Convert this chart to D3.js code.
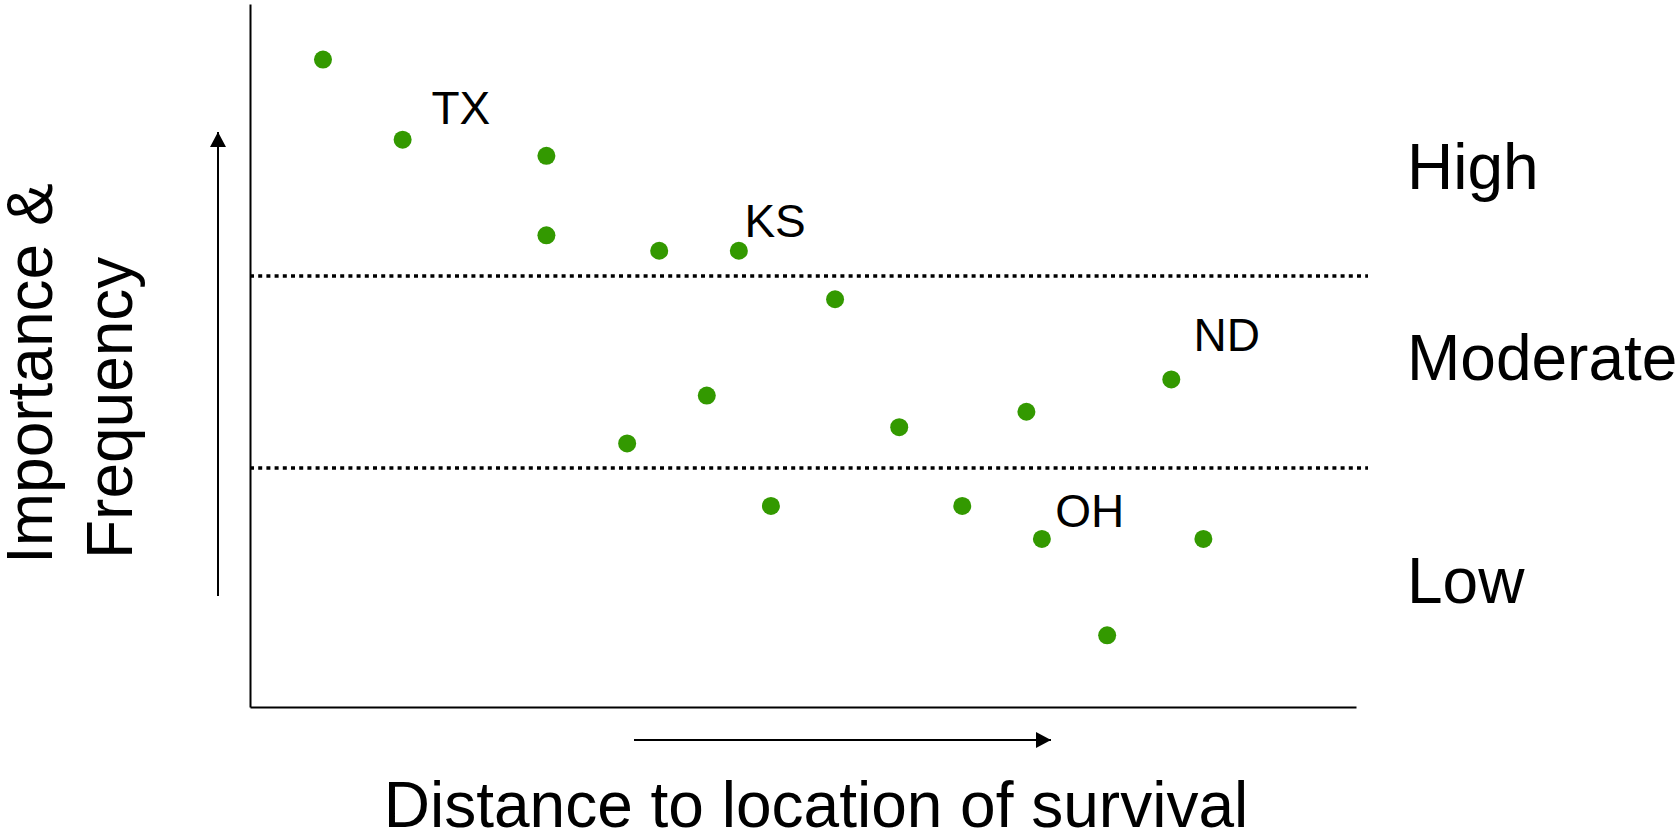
<!DOCTYPE html>
<html>
<head>
<meta charset="utf-8">
<script src="https://cdn.jsdelivr.net/npm/d3@7"></script>
<style>
  body { margin: 0; background: #fff; }
  svg { display: block; font-family: "Liberation Sans", Arial, sans-serif; }
</style>
</head>
<body>
<svg id="chart" width="1678" height="834"></svg>
<script>
// distance (x) and importance & frequency (y), arbitrary 0-100 units
const distance   = [6.6, 13.8, 26.8, 26.8, 37.0, 44.2, 52.9, 41.3, 34.1, 58.7, 70.2, 83.3, 47.1, 64.4, 71.6, 86.2, 77.5];
const importance = [92.1, 80.7, 78.4, 67.1, 64.9, 64.9, 58.0, 44.3, 37.5, 39.8, 42.0, 46.6, 28.6, 28.6, 23.9, 23.9, 10.2];

// state labels placed at data coordinates
const stateNames = ["TX", "KS", "ND", "OH"];
const stateX     = [16.4, 44.7, 85.3, 72.8];
const stateY     = [82.9, 66.9, 50.6, 25.6];

// band thresholds and band labels
const thresholds = [61.3, 34.0];
const bandNames  = ["High", "Moderate", "Low"];
const bandY      = [73.7, 46.5, 14.8];

const svg = d3.select("#chart");

const margin = { left: 250, right: 322, top: 4, bottom: 127 };
const W = 1678, H = 834;

const x = d3.scaleLinear()
  .domain([0, 100])
  .range([margin.left, W - margin.right]);

const y = d3.scaleLinear()
  .domain([0, 100])
  .range([H - margin.bottom, margin.top]);

// axes: just the domain lines, no ticks
svg.append("g")
  .attr("transform", `translate(0,${y(0)})`)
  .call(d3.axisBottom(x).ticks(0).tickSizeOuter(0))
  .call(g => g.select(".domain").attr("stroke", "#000").attr("stroke-width", 2));

svg.append("g")
  .attr("transform", `translate(${x(0)},0)`)
  .call(d3.axisLeft(y).ticks(0).tickSizeOuter(0))
  .call(g => g.select(".domain").attr("stroke", "#000").attr("stroke-width", 2));

// dotted band separators
svg.selectAll(".band-line")
  .data(thresholds)
  .join("line")
  .attr("class", "band-line")
  .attr("x1", x(0))
  .attr("x2", x(100) + 12)
  .attr("y1", d => y(d))
  .attr("y2", d => y(d))
  .attr("stroke", "#000")
  .attr("stroke-width", 3.5)
  .attr("stroke-dasharray", "4,4.2");

// points
svg.selectAll(".pt")
  .data(distance.map((d, i) => ({ x: d, y: importance[i] })))
  .join("circle")
  .attr("class", "pt")
  .attr("cx", d => x(d.x))
  .attr("cy", d => y(d.y))
  .attr("r", 9)
  .attr("fill", "#339900");

// state labels
svg.selectAll(".state")
  .data(stateNames)
  .join("text")
  .attr("class", "state")
  .attr("x", (d, i) => x(stateX[i]))
  .attr("y", (d, i) => y(stateY[i]))
  .style("font-size", "46px")
  .attr("fill", "#000")
  .text(d => d);

// band labels on the right
svg.selectAll(".band")
  .data(bandNames)
  .join("text")
  .attr("class", "band")
  .attr("x", 1407)
  .attr("y", (d, i) => y(bandY[i]))
  .style("font-size", "64px")
  .attr("fill", "#000")
  .text(d => d);

// arrow heads
const defs = svg.append("defs");
defs.append("marker")
  .attr("id", "arrow")
  .attr("viewBox", "0 0 15 16")
  .attr("refX", 15)
  .attr("refY", 8)
  .attr("markerWidth", 15)
  .attr("markerHeight", 16)
  .attr("markerUnits", "userSpaceOnUse")
  .attr("orient", "auto")
  .append("path")
  .attr("d", "M0,0L15,8L0,16Z")
  .attr("fill", "#000");

// vertical arrow
svg.append("line")
  .attr("x1", 218).attr("x2", 218)
  .attr("y1", 596).attr("y2", 132)
  .attr("stroke", "#000")
  .attr("stroke-width", 2)
  .attr("marker-end", "url(#arrow)");

// horizontal arrow
svg.append("line")
  .attr("x1", 634).attr("x2", 1051)
  .attr("y1", 740).attr("y2", 740)
  .attr("stroke", "#000")
  .attr("stroke-width", 2)
  .attr("marker-end", "url(#arrow)");

// y title (two lines, rotated)
const yTitle = svg.append("text")
  .attr("transform", "rotate(-90)")
  .style("font-size", "64px")
  .attr("fill", "#000");
yTitle.append("tspan").attr("x", -564).attr("y", 52).text("Importance &");
yTitle.append("tspan").attr("x", -559).attr("y", 132).text("Frequency");

// x title
svg.append("text")
  .attr("x", 816)
  .attr("y", 827)
  .attr("text-anchor", "middle")
  .style("font-size", "64px")
  .attr("fill", "#000")
  .text("Distance to location of survival");
</script>
</body>
</html>
